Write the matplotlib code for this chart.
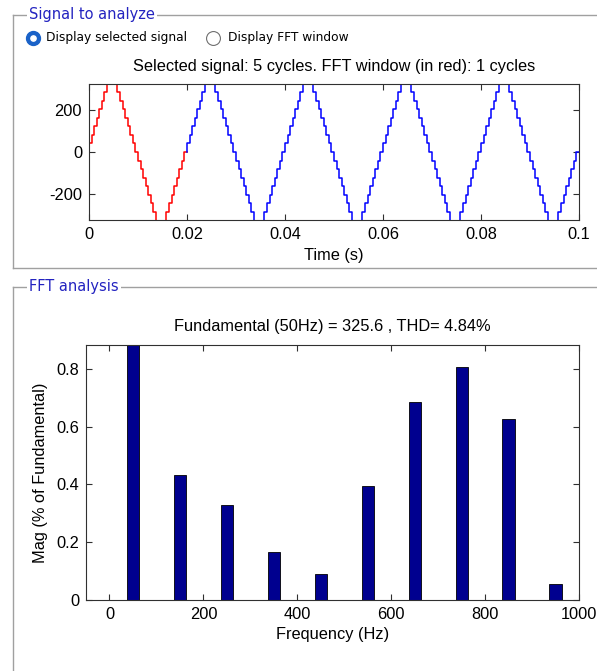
import matplotlib
matplotlib.use("Agg")
import matplotlib.pyplot as plt
import numpy as np
from matplotlib.lines import Line2D

W, H = 597, 671

# one period of the sampled staircase signal (50 Hz, 38 samples per cycle)
ONE_CYCLE = [43, 83, 124, 164, 205, 245, 286, 330, 365, 365, 330, 286, 245, 205,
             164, 124, 83, 43, 0,
             -43, -83, -124, -164, -205, -245, -286, -330, -365, -365, -330, -286,
             -245, -205, -164, -124, -83, -43, 0]
PERIOD = 0.02
N_CYCLES = 5
FUNDAMENTAL = 325.6
THD = 4.84

# FFT harmonics (percent of fundamental)
HARMONIC_FREQS = [50, 150, 250, 350, 450, 550, 650, 750, 850, 950]
HARMONIC_MAGS = [100.0, 0.431, 0.330, 0.167, 0.090, 0.394, 0.684, 0.807, 0.627, 0.056]

TIME_TICKS = [0, 0.02, 0.04, 0.06, 0.08, 0.1]
TIME_LABELS = ["0", "0.02", "0.04", "0.06", "0.08", "0.1"]
SIGNAL_TICKS = [-200, 0, 200]
FREQ_TICKS = [0, 200, 400, 600, 800, 1000]
MAG_TICKS = [0, 0.2, 0.4, 0.6, 0.8]
MAG_LABELS = ["0", "0.2", "0.4", "0.6", "0.8"]

AX_FONT = "Liberation Sans"
AX_SIZE = 11.8
GUI_FONT = "DejaVu Sans"
FRAME_GRAY = "#a0a0a0"
TITLE_BLUE = "#2323c0"


def fx(x):
    return x / W


def fy(y):
    return 1 - y / H


def style_axes(ax):
    for s in ax.spines.values():
        s.set_color("#303030")
        s.set_linewidth(0.8)
    ax.tick_params(direction="in", top=True, right=True, length=4, width=0.8,
                   color="#303030", labelsize=AX_SIZE, pad=5)
    for lab in ax.get_xticklabels() + ax.get_yticklabels():
        lab.set_fontfamily(AX_FONT)


def group_box(fig, top, bottom, title):
    fig.add_artist(Line2D([fx(13), fx(13)], [fy(top), fy(bottom)], color=FRAME_GRAY, lw=1))
    fig.add_artist(Line2D([fx(13), fx(W)], [fy(top), fy(top)], color=FRAME_GRAY, lw=1))
    fig.text(fx(29), fy(top), title, color=TITLE_BLUE, fontsize=10.5, family=GUI_FONT,
             va="center", ha="left",
             bbox=dict(facecolor="white", edgecolor="none", pad=1.5))


def main():
    fig = plt.figure(figsize=(W / 100, H / 100), dpi=100, facecolor="white")

    # group boxes
    group_box(fig, 15, 268, "Signal to analyze")
    fig.add_artist(Line2D([fx(13), fx(W)], [fy(268), fy(268)], color=FRAME_GRAY, lw=1))
    group_box(fig, 287, H + 5, "FFT analysis")

    # radio buttons
    fig.add_artist(Line2D([fx(33)], [fy(38)], marker="o", markersize=10,
                          markerfacecolor="#1a62c8", markeredgecolor="#1a62c8"))
    fig.add_artist(Line2D([fx(33)], [fy(38)], marker="o", markersize=3.8,
                          markerfacecolor="white", markeredgecolor="white"))
    fig.text(fx(46), fy(38), "Display selected signal", fontsize=8.8, family=GUI_FONT,
             va="center", ha="left")
    fig.add_artist(Line2D([fx(213)], [fy(38)], marker="o", markersize=10,
                          markerfacecolor="white", markeredgecolor="#707070",
                          markeredgewidth=0.8))
    fig.text(fx(228), fy(38), "Display FFT window", fontsize=8.8, family=GUI_FONT,
             va="center", ha="left")

    # signal axes
    ax1 = fig.add_axes([fx(89), fy(220), fx(579) - fx(89), fy(84) - fy(220)])
    dt = PERIOD / len(ONE_CYCLE)
    signal = np.tile(np.array(ONE_CYCLE, dtype=float), N_CYCLES)
    t = np.arange(len(signal) + 1) * dt
    signal = np.append(signal, signal[-1])
    n = len(ONE_CYCLE)

    # first cycle is the FFT window (red), the rest in blue
    ax1.plot(t[:n + 1], np.append(signal[:n], signal[n - 1]), color="red",
             lw=1.1, drawstyle="steps-post")
    ax1.plot(np.append(t[n], t[n:]), np.append(signal[n - 1], signal[n:]),
             color="blue", lw=1.1, drawstyle="steps-post")

    ax1.set_xlim(0, PERIOD * N_CYCLES)
    ax1.set_ylim(-FUNDAMENTAL, FUNDAMENTAL)
    ax1.set_xticks(TIME_TICKS)
    ax1.set_xticklabels(TIME_LABELS)
    ax1.set_yticks(SIGNAL_TICKS)
    ax1.set_yticklabels([str(v) for v in SIGNAL_TICKS])
    ax1.set_xlabel("Time (s)", fontsize=AX_SIZE, family=AX_FONT, labelpad=4.5)
    ax1.set_title(f"Selected signal: {N_CYCLES} cycles. FFT window (in red): 1 cycles",
                  fontsize=AX_SIZE, family=AX_FONT, pad=9)
    style_axes(ax1)

    # FFT axes
    ax2 = fig.add_axes([fx(86), fy(600), fx(579) - fx(86), fy(345) - fy(600)])
    ax2.bar(HARMONIC_FREQS, HARMONIC_MAGS, width=26, color="#00008f",
            edgecolor="black", linewidth=0.6)
    ax2.set_xlim(-50, 1000)
    ax2.set_ylim(0, max(HARMONIC_MAGS[1:]) * 1.093)
    ax2.set_xticks(FREQ_TICKS)
    ax2.set_xticklabels([str(v) for v in FREQ_TICKS])
    ax2.set_yticks(MAG_TICKS)
    ax2.set_yticklabels(MAG_LABELS)
    ax2.set_xlabel("Frequency (Hz)", fontsize=AX_SIZE, family=AX_FONT, labelpad=3.5)
    ax2.set_ylabel("Mag (% of Fundamental)", fontsize=AX_SIZE, family=AX_FONT, labelpad=6)
    ax2.set_title(f"Fundamental (50Hz) = {FUNDAMENTAL} , THD= {THD}%",
                  fontsize=AX_SIZE, family=AX_FONT, pad=10)
    style_axes(ax2)

    fig.savefig("out.png", dpi=100, facecolor="white")
    plt.close(fig)


if __name__ == "__main__":
    main()
